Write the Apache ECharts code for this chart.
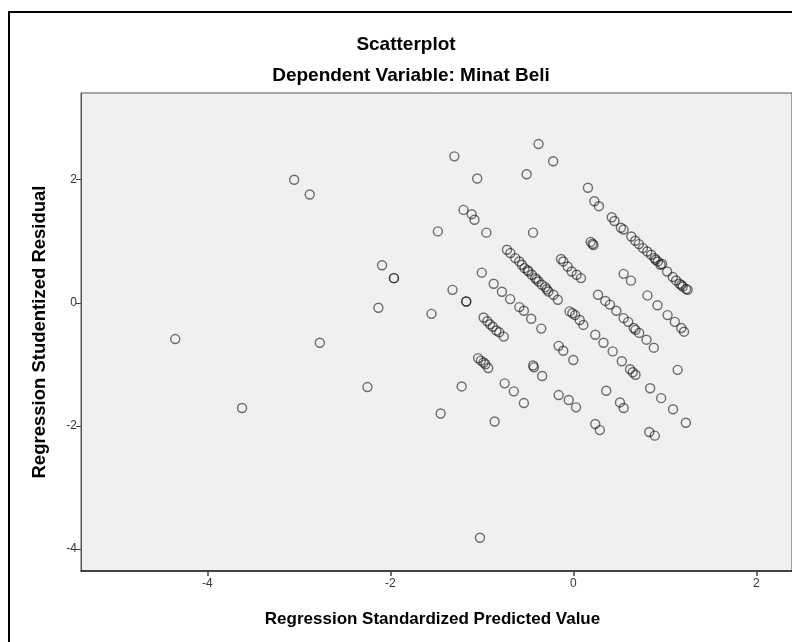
<!DOCTYPE html>
<html>
<head>
<meta charset="utf-8">
<script src="https://cdn.jsdelivr.net/npm/echarts@6/dist/echarts.min.js"></script>
<style>
html,body{margin:0;padding:0;background:#fff;}
#chart{width:792px;height:642px;}
</style>
</head>
<body>
<div id="chart"></div>
<script>
// Regression Standardized Predicted Value (x) and Regression Studentized Residual (y)
var predicted = [
  -4.35, -3.62, -3.05, -2.88, -2.77, -2.25, -2.13, -2.09, -1.96, -1.96,
  -1.55, -1.48, -1.45, -1.30, -1.32, -1.22, -1.20, -1.17, -1.17, -1.11,
  -1.08, -1.05, -1.02, -1.00, -0.95, -0.87, -0.86, -0.78, -0.69, -0.59,
  -0.54, -0.46, -0.35,
  -0.98, -0.94, -0.91, -0.88, -0.84, -0.81, -0.76,
  -1.04, -1.01, -0.98, -0.96, -0.93,
  -0.75, -0.65, -0.54,
  -0.44, -0.43, -0.34,
  -0.51, -0.38, -0.22,
  -0.44,
  -0.725, -0.688, -0.634, -0.590, -0.562, -0.533, -0.489, -0.453, -0.416, -0.380,
  -0.344, -0.307, -0.272, -0.217, -0.170, -0.50, -0.40, -0.29,
  -0.134, -0.109, -0.062, -0.018, 0.036, 0.084,
  -0.16, -0.11, 0.00,
  -0.16, -0.05, 0.03,
  -0.04, 0.02, 0.07, 0.11, -0.01,
  0.24,
  0.24, 0.29,
  0.16, 0.23, 0.28,
  0.19, 0.21, 0.22,
  0.27, 0.35, 0.40, 0.47, 0.55, 0.60, 0.66, 0.68, 0.72, 0.80, 0.88,
  0.42, 0.45, 0.52, 0.55,
  0.634, 0.677, 0.717, 0.761, 0.808, 0.851, 0.888, 0.924, 0.953, 0.97,
  1.025, 1.087, 1.123, 1.160, 1.196, 1.232, 1.25, 1.18, 0.90,
  0.55, 0.63,
  0.81, 0.92, 1.03, 1.11, 1.18, 1.21,
  0.33, 0.43, 0.53, 0.62, 0.65, 0.68,
  1.14,
  0.36, 0.51, 0.55,
  0.84, 0.96, 1.09, 1.23,
  0.83, 0.89
];
var residual = [
  -0.59, -1.71, 2.00, 1.76, -0.65, -1.37, -0.08, 0.61, 0.40, 0.40,
  -0.18, 1.16, -1.80, 2.38, 0.21, -1.36, 1.51, 0.02, 0.02, 1.44,
  1.35, 2.02, -3.82, 0.49, 1.14, 0.31, -1.93, 0.18, 0.06, -0.07,
  -0.13, -0.26, -0.42,
  -0.24, -0.30, -0.35, -0.39, -0.45, -0.48, -0.55,
  -0.90, -0.94, -0.97, -1.00, -1.06,
  -1.31, -1.44, -1.63,
  -1.02, -1.05, -1.19,
  2.09, 2.58, 2.30,
  1.14,
  0.862, 0.808, 0.726, 0.672, 0.618, 0.563, 0.509, 0.455, 0.401, 0.346,
  0.293, 0.255, 0.184, 0.130, 0.049, 0.53, 0.38, 0.22,
  0.711, 0.672, 0.590, 0.509, 0.455, 0.401,
  -0.70, -0.78, -0.93,
  -1.50, -1.58, -1.70,
  -0.14, -0.20, -0.28, -0.36, -0.17,
  -0.52,
  -1.97, -2.07,
  1.87, 1.65, 1.57,
  0.99, 0.96, 0.94,
  0.13, 0.03, -0.03, -0.13, -0.25, -0.31, -0.41, -0.44, -0.49, -0.60, -0.73,
  1.39, 1.33, 1.22, 1.19,
  1.078, 1.008, 0.954, 0.889, 0.834, 0.780, 0.726, 0.672, 0.618, 0.63,
  0.509, 0.418, 0.363, 0.309, 0.265, 0.223, 0.21, 0.29, 0.70,
  0.47, 0.36,
  0.12, -0.04, -0.20, -0.31, -0.41, -0.47,
  -0.65, -0.79, -0.95, -1.08, -1.13, -1.17,
  -1.09,
  -1.43, -1.62, -1.71,
  -1.39, -1.55, -1.73, -1.95,
  -2.10, -2.16
];
var xTicks = [-4, -2, 0, 2];
var yTicks = [-4, -2, 0, 2];

var points = predicted.map(function (v, i) { return [v, residual[i]]; });

var chart = echarts.init(document.getElementById('chart'), null, {renderer: 'canvas'});
var FONT = '"Liberation Sans", Arial, sans-serif';
chart.setOption({
  animation: false,
  backgroundColor: '#ffffff',
  title: [
    {text: 'Scatterplot', left: 401, top: 30, textAlign: 'center',
     textStyle: {fontFamily: FONT, fontSize: 19, fontWeight: 'bold', color: '#000'}},
    {text: 'Dependent Variable: Minat Beli', left: 406, top: 61, textAlign: 'center',
     textStyle: {fontFamily: FONT, fontSize: 19, fontWeight: 'bold', color: '#000'}}
  ],
  graphic: [
    {type: 'rect', shape: {x: 9, y: 12, width: 800, height: 700},
     style: {fill: 'none', stroke: '#000', lineWidth: 2}, silent: true, z: 0}
  ],
  grid: {left: 81, top: 93, right: -3, bottom: 71, show: true,
         backgroundColor: '#f0f0f0', borderColor: '#555', borderWidth: 1},
  xAxis: {
    type: 'value', min: -5.38, max: 2.39,
    name: 'Regression Standardized Predicted Value', nameLocation: 'middle', nameGap: 40,
    nameTextStyle: {fontFamily: FONT, fontSize: 17, fontWeight: 'bold', color: '#000', padding: [0, 8, 0, 0]},
    axisLine: {show: true, onZero: false, lineStyle: {color: '#222', width: 1.5}},
    axisTick: {show: true, length: 5, lineStyle: {color: '#444', width: 1.5}, customValues: xTicks},
    axisLabel: {customValues: xTicks, fontFamily: FONT, fontSize: 12, color: '#333', margin: 7},
    splitLine: {show: false}
  },
  yAxis: {
    type: 'value', min: -4.36, max: 3.41,
    name: 'Regression Studentized Residual', nameLocation: 'middle', nameGap: 32,
    nameTextStyle: {fontFamily: FONT, fontSize: 18.5, fontWeight: 'bold', color: '#000'},
    axisLine: {show: true, onZero: false, lineStyle: {color: '#555', width: 1}},
    axisTick: {show: true, length: 5, lineStyle: {color: '#444', width: 1}, customValues: yTicks},
    axisLabel: {customValues: yTicks, fontFamily: FONT, fontSize: 12, color: '#333', margin: 4},
    splitLine: {show: false}
  },
  series: [{
    type: 'scatter',
    data: points,
    symbol: 'circle',
    symbolSize: 9,
    itemStyle: {color: 'rgba(0,0,0,0)', borderColor: 'rgba(20,20,20,0.75)', borderWidth: 1.4}
  }]
});
</script>
</body>
</html>
